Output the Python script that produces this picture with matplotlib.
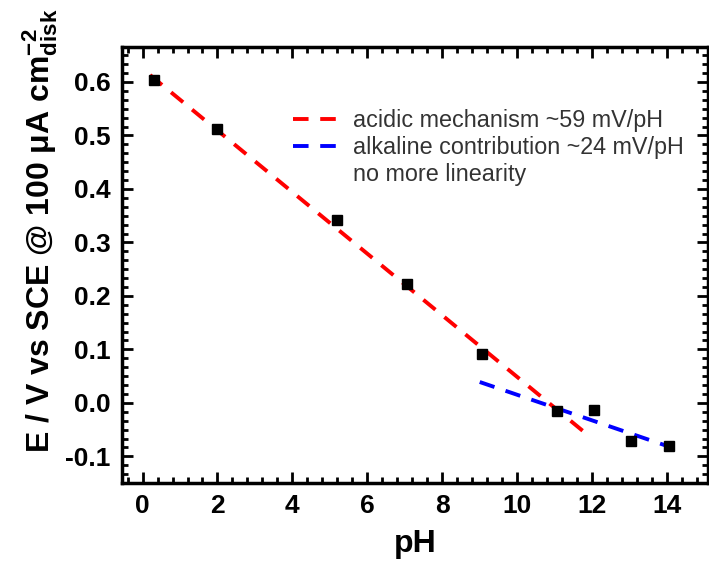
import numpy as np
import matplotlib
matplotlib.use('Agg')
import matplotlib.pyplot as plt
from matplotlib.lines import Line2D
from matplotlib.ticker import MultipleLocator, AutoMinorLocator

plt.rcParams['font.family'] = ['Liberation Sans', 'DejaVu Sans']
plt.rcParams['mathtext.fontset'] = 'custom'
plt.rcParams['mathtext.bf'] = 'Liberation Sans:bold'
plt.rcParams['mathtext.rm'] = 'Liberation Sans:bold'
plt.rcParams['mathtext.default'] = 'bf'

# data
ph = [0.3, 2.0, 5.2, 7.05, 9.05, 11.05, 12.05, 13.05, 14.05]
e_sce = [0.603, 0.513, 0.341, 0.223, 0.091, -0.016, -0.013, -0.072, -0.080]

acid_ph = [0.2, 11.9]
acid_e = [0.613, -0.061]
alk_ph = [9.0, 14.1]
alk_e = [0.039, -0.083]

fig = plt.figure(figsize=(7.09, 5.69), dpi=100)
ax = fig.add_axes([0.172, 0.151, 0.827, 0.766])

ax.plot(acid_ph, acid_e, color='red', lw=2.8, ls=(0, (4, 3)))
ax.plot(alk_ph, alk_e, color='blue', lw=2.8, ls=(0, (4, 3)))
ax.plot(ph, e_sce, 's', color='black', ms=6.5, ls='none')

ax.set_xlim(-0.55, 15.1)
ax.set_ylim(-0.15, 0.665)
ax.xaxis.set_major_locator(MultipleLocator(2))
ax.xaxis.set_minor_locator(AutoMinorLocator(5))
ax.yaxis.set_major_locator(MultipleLocator(0.1))
ax.yaxis.set_minor_locator(AutoMinorLocator(6))
ax.yaxis.set_major_formatter(matplotlib.ticker.FormatStrFormatter('%.1f'))

ax.tick_params(which='both', direction='in', top=True, right=True, width=2)
ax.tick_params(which='major', length=8, labelsize=19, pad=8)
ax.tick_params(which='minor', length=4)
for lab in ax.get_xticklabels() + ax.get_yticklabels():
    lab.set_fontweight('bold')
for s in ax.spines.values():
    s.set_linewidth(2.5)

ax.set_xlabel('pH', fontsize=23, fontweight='bold', labelpad=8)
ax.set_ylabel('E / V vs SCE @ 100 μA cm$^{-2}_{disk}$', fontsize=23,
              fontweight='bold')
ax.yaxis.set_label_coords(-0.105, 0.58)

handles = [Line2D([], [], color='red', lw=2.8, ls=(0, (4, 3))),
           Line2D([], [], color='blue', lw=2.8, ls=(0, (4, 3))),
           Line2D([], [], color='none')]
labels = ['acidic mechanism ~59 mV/pH',
          'alkaline contribution ~24 mV/pH',
          'no more linearity']
leg = ax.legend(handles, labels, loc='upper left', bbox_to_anchor=(0.275, 0.88),
                frameon=False, fontsize=16.8, handlelength=2.1, handletextpad=0.5,
                labelspacing=0.17, borderaxespad=0)
for t in leg.get_texts():
    t.set_color('#333333')

fig.savefig('out.png', dpi=100)
